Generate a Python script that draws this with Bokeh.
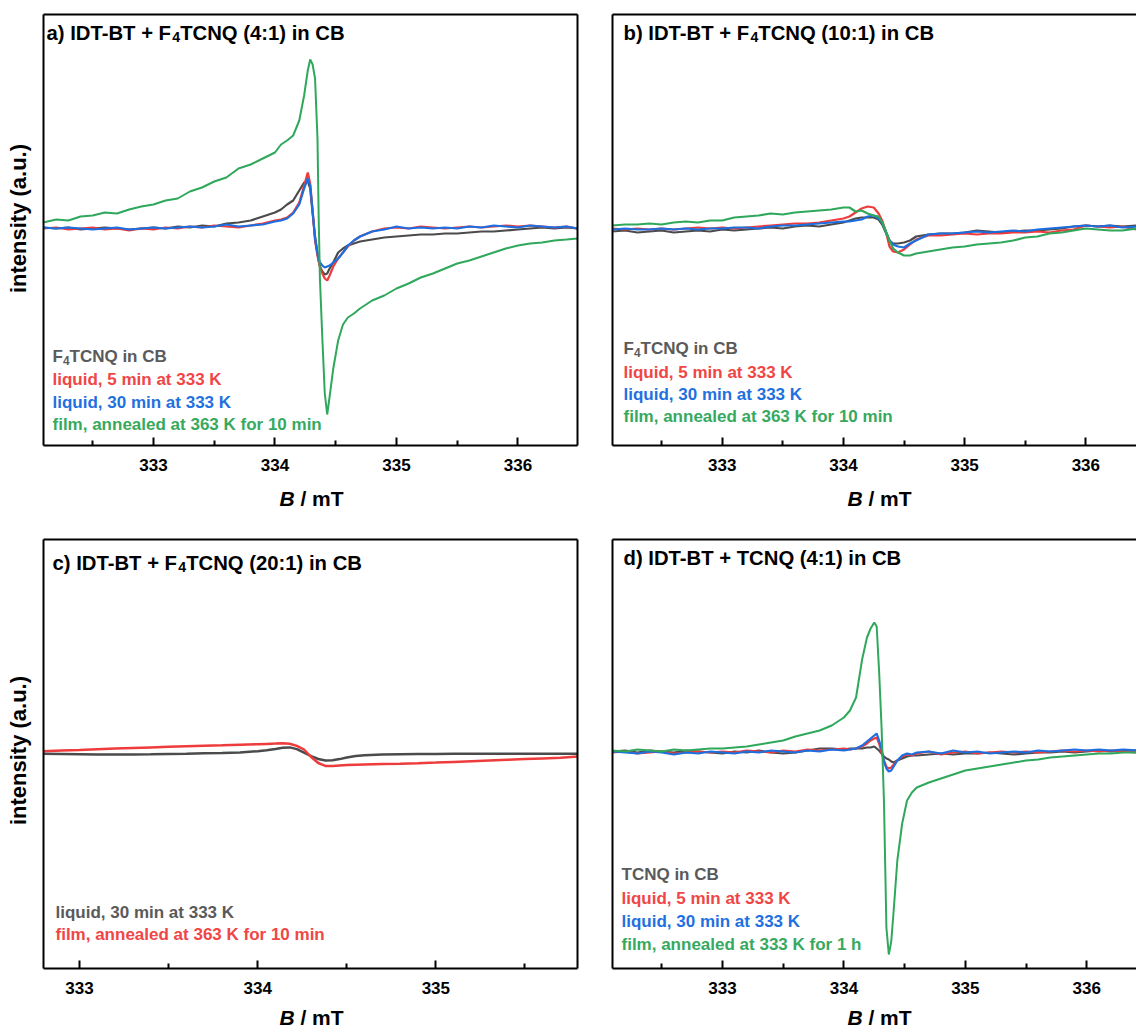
import math

from bokeh.plotting import figure
from bokeh.models import Range1d, LinearAxis, FixedTicker, Label
from bokeh.layouts import column, row
from bokeh.embed import file_html
from bokeh.resources import INLINE

FONT = "Liberation Sans"

GREY = "#4b4b4b"
RED = "#ee3b3b"
BLUE = "#1c6fe0"
GREEN = "#2fa85c"
GREY_TXT = "#5a5a5a"
RED_TXT = "#f04646"
BLUE_TXT = "#1f70e0"
GREEN_TXT = "#37a95e"

MAJOR_TICKS = [333, 334, 335, 336]
MINOR_TICKS = [332.5, 333.5, 334.5, 335.5, 336.5]

# ---------------------------------------------------------------- panel a
# IDT-BT + F4TCNQ (4:1) in CB, intensity in arbitrary units
field_a = [332.09, 332.20, 332.30, 332.40, 332.50, 332.60, 332.70, 332.80, 332.90, 333.00,
           333.10, 333.20, 333.30, 333.40, 333.50, 333.60, 333.70, 333.80, 333.90, 334.00,
           334.05, 334.10, 334.15, 334.20, 334.24, 334.27, 334.29, 334.31, 334.33, 334.35,
           334.36, 334.37, 334.39, 334.41, 334.43, 334.45, 334.48, 334.52, 334.56, 334.60,
           334.65, 334.70, 334.80, 334.90, 335.00, 335.10, 335.20, 335.30, 335.40, 335.50,
           335.60, 335.70, 335.80, 335.90, 336.00, 336.10, 336.20, 336.30, 336.40, 336.49]
a_solution = [1, 0, 1, -1, 0, 1, 0, -1, 0, 1,
              0, 2, 1, 3, 2, 5, 6, 8, 12, 16,
              19, 24, 28, 38, 46, 47, 40, 15, -8, -25,
              -32, -38, -43, -46, -45, -40, -34, -24, -20, -17,
              -15, -13, -11, -9, -8, -7, -6, -6, -5, -5,
              -4, -3, -3, -2, -1, 0, 1, 0, 1, 0]
a_liquid_5min = [0, 1, -1, 0, 1, -1, 0, -2, 0, -1,
                 1, 0, 2, 1, 3, 2, 1, 3, 5, 8,
                 9, 11, 16, 26, 43, 56, 45, 18, -12, -27,
                 -33, -38, -45, -50, -52, -47, -38, -30, -24, -18,
                 -12, -8, -3, 0, 1, 0, 2, 1, 0, 1,
                 2, 1, 2, 3, 2, 3, 2, 1, 2, 0]
a_liquid_30min = [1, 0, 1, 0, -1, 0, 1, -1, 0, 1,
                  0, 1, 2, 1, 2, 4, 2, 3, 4, 7,
                  8, 10, 15, 24, 40, 50, 43, 17, -10, -25,
                  -30, -34, -37, -39, -38, -37, -34, -30, -24, -17,
                  -12, -8, -3, -1, 2, 0, 1, 0, 1, 0,
                  2, 1, 3, 2, 1, 3, 2, 1, 2, 0]
a_film = [6, 9, 8, 12, 13, 16, 15, 19, 22, 24,
          28, 30, 37, 41, 47, 51, 60, 64, 70, 76,
          84, 88, 93, 108, 133, 158, 169, 164, 150, 90,
          10, -50, -110, -165, -186, -168, -140, -112, -96, -89,
          -85, -80, -72, -67, -60, -55, -49, -45, -40, -35,
          -32, -28, -24, -20, -17, -15, -14, -12, -11, -10]

# ---------------------------------------------------------------- panel b
# IDT-BT + F4TCNQ (10:1) in CB
field_b = [332.09, 332.20, 332.30, 332.40, 332.50, 332.60, 332.70, 332.80, 332.90, 333.00,
           333.10, 333.20, 333.30, 333.40, 333.50, 333.60, 333.70, 333.80, 333.90, 334.00,
           334.05, 334.10, 334.15, 334.20, 334.25, 334.29, 334.32, 334.35, 334.38, 334.41,
           334.45, 334.50, 334.55, 334.60, 334.70, 334.80, 334.90, 335.00, 335.10, 335.20,
           335.30, 335.40, 335.50, 335.60, 335.70, 335.80, 335.90, 336.00, 336.10, 336.20,
           336.30, 336.42]
b_solution = [-3, -2, -4, -3, -2, -4, -3, -2, -3, -1,
              -2, -1, 0, 1, 0, 2, 3, 2, 4, 6,
              8, 10, 11, 11, 11, 9, 4, -4, -12, -15,
              -15, -14, -12, -8, -6, -5, -5, -4, -2, -3,
              -4, -3, -2, -2, -1, 0, 2, 3, 2, 3,
              2, 3]
b_liquid_5min = [0, -1, 0, -1, 0, -1, 0, 1, 0, 1,
                 0, 1, 2, 3, 4, 5, 5, 6, 8, 10,
                 12, 16, 20, 22, 21, 15, 8, -3, -18, -23,
                 -24, -21, -16, -11, -7, -7, -6, -5, -6, -5,
                 -5, -4, -4, -3, -4, -2, -1, 3, 2, 1,
                 2, -1]
b_liquid_30min = [-1, 0, -1, -1, 0, -1, 0, -1, 0, 0,
                  1, 1, 0, 2, 3, 3, 4, 5, 6, 7,
                  7, 8, 9, 12, 13, 10, 6, -3, -12, -16,
                  -18, -19, -15, -12, -6, -5, -5, -4, -3, -4,
                  -3, -2, -3, -1, 0, 1, 2, 3, 2, 3,
                  1, 2]
b_film = [3, 4, 4, 5, 4, 6, 7, 6, 8, 8,
          11, 12, 13, 15, 14, 16, 17, 18, 19, 21,
          21, 17, 18, 15, 13, 12, 6, -3, -12, -20,
          -24, -27, -27, -25, -23, -21, -19, -18, -16, -15,
          -14, -12, -9, -8, -5, -4, -2, 0, -1, -2,
          -2, 0]

# ---------------------------------------------------------------- panel c
# IDT-BT + F4TCNQ (20:1) in CB
field_c = [332.79, 332.90, 333.00, 333.10, 333.20, 333.30, 333.40, 333.50, 333.60, 333.70,
           333.80, 333.90, 334.00, 334.05, 334.10, 334.14, 334.18, 334.22, 334.26, 334.30,
           334.34, 334.38, 334.42, 334.46, 334.50, 334.55, 334.60, 334.70, 334.80, 334.90,
           335.00, 335.10, 335.20, 335.30, 335.40, 335.50, 335.60, 335.70, 335.80]
c_liquid_30min = [-0.3, -0.5, -0.7, -0.9, -1.0, -0.9, -0.7, -0.4, -0.2, 0.2,
                  0.5, 1.1, 2.3, 3.2, 4.6, 5.8, 6.1, 4.4, 0.9, -2.6,
                  -5.5, -6.9, -6.8, -5.6, -4.0, -2.6, -1.7, -1.1, -0.7, -0.5,
                  -0.4, -0.3, -0.3, -0.2, -0.2, -0.2, -0.2, -0.2, -0.3]
c_film = [2.3, 3.0, 3.6, 4.3, 4.9, 5.5, 6.1, 6.7, 7.2, 7.7,
          8.2, 8.8, 9.3, 9.6, 9.9, 10.2, 9.8, 7.6, 4.0, -3.5,
          -9.5, -12.4, -12.6, -12.0, -11.6, -11.3, -11.0, -10.6, -10.2, -9.7,
          -9.1, -8.4, -7.7, -7.0, -6.3, -5.6, -4.9, -4.2, -3.0]

# ---------------------------------------------------------------- panel d
# IDT-BT + TCNQ (4:1) in CB
field_d = [332.09, 332.20, 332.30, 332.40, 332.50, 332.60, 332.70, 332.80, 332.90, 333.00,
           333.10, 333.20, 333.30, 333.40, 333.50, 333.60, 333.70, 333.80, 333.90, 334.00,
           334.05, 334.10, 334.15, 334.19, 334.22, 334.25, 334.27, 334.29, 334.31, 334.33,
           334.35, 334.37, 334.39, 334.41, 334.44, 334.48, 334.52, 334.56, 334.60, 334.70,
           334.80, 334.90, 335.00, 335.10, 335.20, 335.30, 335.40, 335.50, 335.60, 335.70,
           335.80, 335.90, 336.00, 336.10, 336.20, 336.30, 336.42]
d_solution = [0, 1, -1, 1, 0, -1, 1, 0, -1, -2,
              0, -1, 1, -1, -2, -1, 1, 3, 3, 2,
              3, 3, 3, 4, 4, 5, 3, 1, -2, -5,
              -7, -8, -10, -11, -9, -7, -5, -4, -4, -3,
              -2, -3, -2, -2, -1, -2, -3, -2, -1, -1,
              0, -1, 0, 1, 0, 1, 1]
d_liquid_5min = [-1, 0, -2, -1, 0, -2, -1, 0, -1, 0,
                 -1, 1, 0, -1, 1, 0, 2, 1, 2, 3,
                 2, 3, 5, 8, 11, 13, 14, 8, -1, -9,
                 -15, -17, -16, -13, -9, -5, -3, -4, -2, 0,
                 -3, -1, 0, -2, -1, 0, -1, 0, -1, 0,
                 1, 0, 1, 0, 1, 0, -1]
d_liquid_30min = [0, -1, -2, 0, -1, -3, -1, -2, 0, -1,
                  -2, 0, -1, 1, 0, -1, 1, 0, 2, 1,
                  2, 3, 6, 10, 13, 16, 18, 11, 3, -10,
                  -17, -20, -19, -15, -9, -4, -2, -3, -1, 0,
                  -2, 1, -1, 0, -2, -1, 0, -1, 1, 0,
                  1, 2, 1, 2, 1, 2, 1]
d_film = [1, 0, 2, 1, 0, 2, 1, 2, 3, 3,
          4, 5, 7, 9, 11, 15, 18, 21, 26, 34,
          41, 54, 92, 114, 123, 129, 125, 80, 25, -50,
          -176, -203, -190, -159, -109, -72, -49, -41, -36, -31,
          -27, -23, -19, -17, -15, -13, -11, -9, -8, -6,
          -5, -4, -3, -2, -2, -1, -1]

# Liberation Sans Bold advance widths (1/1000 em), used to place mixed-style text runs
BOLD_W = {' ': 278, '(': 333, ')': 333, '+': 584, ',': 278, '-': 333, '.': 278, '/': 278, ':': 333,
          'A': 722, 'B': 722, 'C': 722, 'D': 722, 'E': 667, 'F': 611, 'G': 778, 'H': 722, 'I': 278,
          'J': 556, 'K': 722, 'L': 611, 'M': 833, 'N': 722, 'O': 778, 'P': 667, 'Q': 778, 'R': 722,
          'S': 667, 'T': 611, 'U': 722, 'V': 667, 'W': 944, 'X': 667, 'Y': 667, 'Z': 611,
          'a': 556, 'b': 611, 'c': 556, 'd': 611, 'e': 556, 'f': 333, 'g': 611, 'h': 611, 'i': 278,
          'j': 278, 'k': 556, 'l': 278, 'm': 889, 'n': 611, 'o': 611, 'p': 611, 'q': 611, 'r': 389,
          's': 556, 't': 333, 'u': 611, 'v': 556, 'w': 778, 'x': 556, 'y': 556, 'z': 500}


def run_width(text, size):
    return sum(BOLD_W.get(ch, 556) for ch in text) * size / 1000.0


def add_runs(p, x, y, runs, size, color, sub_scale=0.7, sub_drop=0.24, align="left"):
    """Write a line of bold text made of runs (text, kind); kind is '', 'sub' or 'italic'."""
    sizes = [size * sub_scale if kind == "sub" else size for _, kind in runs]
    total = sum(run_width(t, s) for (t, _), s in zip(runs, sizes))
    cx = x - total / 2 if align == "center" else x
    for (text, kind), fs in zip(runs, sizes):
        dy = -size * sub_drop if kind == "sub" else 0
        body = text.lstrip(" ")
        lead = run_width(text[:len(text) - len(body)], fs)   # leading blanks become an offset
        p.add_layout(Label(x=cx + lead, y=y + dy, x_units="screen", y_units="screen", text=body,
                           text_font=FONT, text_font_size=f"{fs:.1f}px",
                           text_font_style="bold italic" if kind == "italic" else "bold",
                           text_color=color, text_baseline="alphabetic", text_align="left"))
        cx += run_width(text, fs)


def blank(width, height):
    """An empty canvas that only carries text labels."""
    p = figure(width=width, height=height, x_range=Range1d(0, 1), y_range=Range1d(0, 1),
               x_axis_location=None, y_axis_location=None,
               min_border_left=0, min_border_right=0, min_border_top=0, min_border_bottom=0,
               outline_line_color=None, background_fill_color="white",
               border_fill_color="white", output_backend="svg", toolbar_location=None)
    p.grid.visible = False
    return p


def edge_axis():
    return LinearAxis(ticker=FixedTicker(ticks=[]), axis_line_width=2, axis_line_color="black",
                      major_tick_line_color=None, minor_tick_line_color=None,
                      major_tick_in=0, major_tick_out=0, minor_tick_in=0, minor_tick_out=0,
                      major_label_text_font_size="0px", major_label_standoff=0,
                      axis_label_standoff=0)


def make_panel(xr, yr, frame_w, frame_h, left, right, top, bottom, closed):
    p = figure(frame_width=frame_w, frame_height=frame_h,
               x_range=Range1d(*xr), y_range=Range1d(*yr),
               x_axis_location=None, y_axis_location=None,
               min_border_left=left, min_border_right=right,
               min_border_top=top, min_border_bottom=bottom,
               outline_line_color=None, background_fill_color="white",
               border_fill_color="white", output_backend="svg", toolbar_location=None)
    p.grid.visible = False
    xaxis = LinearAxis(ticker=FixedTicker(ticks=MAJOR_TICKS, minor_ticks=MINOR_TICKS),
                       axis_line_width=2, axis_line_color="black",
                       major_tick_in=8, major_tick_out=0, major_tick_line_width=2,
                       major_tick_line_color="black",
                       minor_tick_in=5, minor_tick_out=0, minor_tick_line_width=2,
                       minor_tick_line_color="black",
                       major_label_text_font=FONT, major_label_text_font_style="bold",
                       major_label_text_font_size="17px", major_label_text_color="black",
                       major_label_standoff=13)
    p.add_layout(xaxis, "below")
    p.add_layout(edge_axis(), "left")
    p.add_layout(edge_axis(), "above")
    if closed:
        p.add_layout(edge_axis(), "right")
    return p


def y_title(p, x, y):
    p.add_layout(Label(x=x, y=y, x_units="screen", y_units="screen",
                       text="intensity (a.u.)", angle=math.pi / 2, text_font=FONT,
                       text_font_style="bold", text_font_size="22px", text_color="black",
                       text_align="center", text_baseline="middle"))


def b_title(p, x, y):
    # axis title: italic B with an upright unit
    add_runs(p, x, y, [("B", "italic"), (" / mT", "")], 21, "black", align="center")


F4 = [("F", ""), ("4", "sub")]

# ---------------------------------------------------------------- top row
pa = make_panel((332.095, 336.49), (-217, 214), 534, 431, 3, 17, 14, 38, True)
pa.line(field_a, a_solution, line_color=GREY, line_width=2.2)
pa.line(field_a, a_liquid_5min, line_color=RED, line_width=2.2)
pa.line(field_a, a_liquid_30min, line_color=BLUE, line_width=2.2)
pa.line(field_a, a_film, line_color=GREEN, line_width=2)
add_runs(pa, 3, 413, [("a) IDT-BT + F", ""), ("4", "sub"), ("TCNQ (4:1) in CB", "")], 20.3, "black")
add_runs(pa, 9, 89, F4 + [("TCNQ in CB", "")], 17, GREY_TXT)
add_runs(pa, 9, 66, [("liquid, 5 min at 333 K", "")], 17, RED_TXT)
add_runs(pa, 9, 43, [("liquid, 30 min at 333 K", "")], 17, BLUE_TXT)
add_runs(pa, 9, 21, [("film, annealed at 363 K for 10 min", "")], 17, GREEN_TXT)

pb = make_panel((332.095, 336.418), (-217, 214), 524, 431, 18, 0, 14, 38, False)
pb.line(field_b, b_solution, line_color=GREY, line_width=2.2)
pb.line(field_b, b_liquid_5min, line_color=RED, line_width=2.2)
pb.line(field_b, b_liquid_30min, line_color=BLUE, line_width=2.2)
pb.line(field_b, b_film, line_color=GREEN, line_width=2.2)
add_runs(pb, 11, 413, [("b) IDT-BT + F", ""), ("4", "sub"), ("TCNQ (10:1) in CB", "")], 20.3, "black")
add_runs(pb, 11, 97, F4 + [("TCNQ in CB", "")], 17, GREY_TXT)
add_runs(pb, 11, 73, [("liquid, 5 min at 333 K", "")], 17, RED_TXT)
add_runs(pb, 11, 51, [("liquid, 30 min at 333 K", "")], 17, BLUE_TXT)
add_runs(pb, 11, 29, [("film, annealed at 363 K for 10 min", "")], 17, GREEN_TXT)

ylab_top = blank(40, 483)
y_title(ylab_top, 18, 227)

xlab_top = blank(1136, 42)
b_title(xlab_top, 311, 27)
b_title(xlab_top, 879, 27)

# ---------------------------------------------------------------- bottom row
pc = make_panel((332.798, 335.795), (-215, 214), 534, 429, 3, 17, 14, 36, True)
pc.line(field_c, c_liquid_30min, line_color=GREY, line_width=2.5)
pc.line(field_c, c_film, line_color=RED, line_width=2.5)
add_runs(pc, 9, 406, [("c) IDT-BT + F", ""), ("4", "sub"), ("TCNQ (20:1) in CB", "")], 20.3, "black")
add_runs(pc, 12, 56, [("liquid, 30 min at 333 K", "")], 17, GREY_TXT)
add_runs(pc, 12, 34, [("film, annealed at 363 K for 10 min", "")], 17, RED_TXT)

pd = make_panel((332.094, 336.41), (-217, 212), 524, 429, 18, 0, 14, 36, False)
pd.line(field_d, d_solution, line_color=GREY, line_width=2.2)
pd.line(field_d, d_liquid_5min, line_color=RED, line_width=2.2)
pd.line(field_d, d_liquid_30min, line_color=BLUE, line_width=2.2)
pd.line(field_d, d_film, line_color=GREEN, line_width=2)
add_runs(pd, 11, 411, [("d) IDT-BT + TCNQ (4:1) in CB", "")], 20.3, "black")
add_runs(pd, 9, 94, [("TCNQ in CB", "")], 17, GREY_TXT)
add_runs(pd, 9, 70, [("liquid, 5 min at 333 K", "")], 17, RED_TXT)
add_runs(pd, 9, 47, [("liquid, 30 min at 333 K", "")], 17, BLUE_TXT)
add_runs(pd, 9, 24, [("film, annealed at 333 K for 1 h", "")], 17, GREEN_TXT)

ylab_bot = blank(40, 479)
y_title(ylab_bot, 18, 218)

xlab_bot = blank(1136, 26)
b_title(xlab_bot, 311, 13)
b_title(xlab_bot, 879, 13)

layout = column(row(ylab_top, pa, pb), xlab_top, row(ylab_bot, pc, pd), xlab_bot)

with open("out.html", "w") as fh:
    fh.write(file_html(layout, INLINE))
